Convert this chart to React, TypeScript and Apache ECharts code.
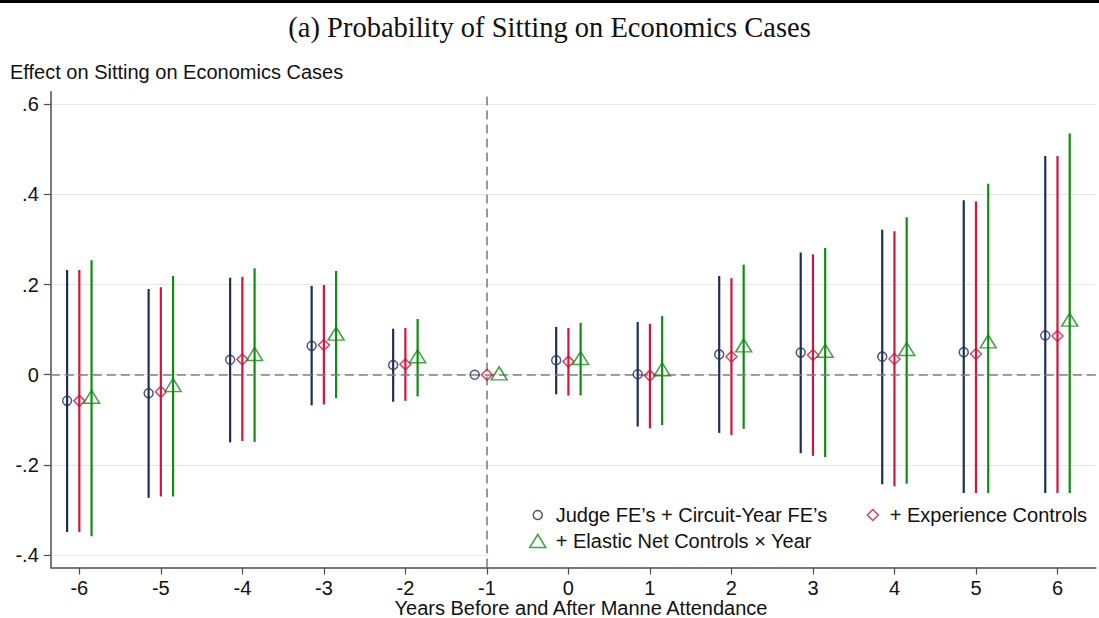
import React, { useEffect, useRef } from "react";
import * as echarts from "echarts";

// ---------- data ----------
const years = [-6, -5, -4, -3, -2, -1, 0, 1, 2, 3, 4, 5, 6];
const yTicks = [-0.4, -0.2, 0, 0.2, 0.4, 0.6];

const seriesNames = [
  "Judge FE\u2019s + Circuit-Year FE\u2019s",
  "+ Experience Controls",
  "+ Elastic Net Controls \u00d7 Year",
];

const baseEst = [-0.058, -0.041, 0.033, 0.064, 0.0215, 0, 0.032, 0.001, 0.045, 0.049, 0.04, 0.05, 0.087];
const baseLo = [-0.349, -0.273, -0.15, -0.068, -0.06, null, -0.0435, -0.115, -0.129, -0.174, -0.243, -0.287, -0.311];
const baseHi = [0.232, 0.19, 0.215, 0.197, 0.102, null, 0.106, 0.117, 0.219, 0.271, 0.3215, 0.387, 0.485];

const expEst = [-0.058, -0.038, 0.034, 0.066, 0.023, 0, 0.029, -0.002, 0.04, 0.0437, 0.035, 0.046, 0.086];
const expLo = [-0.349, -0.27, -0.147, -0.066, -0.058, null, -0.0465, -0.119, -0.134, -0.18, -0.2475, -0.292, -0.313];
const expHi = [0.232, 0.194, 0.217, 0.199, 0.1035, null, 0.1035, 0.113, 0.214, 0.267, 0.318, 0.384, 0.485];

const enetEst = [-0.049, -0.023, 0.046, 0.091, 0.041, 0.003, 0.037, 0.012, 0.065, 0.053, 0.057, 0.074, 0.122];
const enetLo = [-0.358, -0.27, -0.149, -0.052, -0.048, null, -0.046, -0.112, -0.12, -0.1825, -0.2417, -0.2755, -0.291];
const enetHi = [0.254, 0.219, 0.236, 0.23, 0.1235, null, 0.115, 0.13, 0.244, 0.281, 0.349, 0.4235, 0.535];

// ---------- style ----------
const colors = ["#1e2d5c", "#cf1541", "#118c11"];
const offsets = [-0.15, 0, 0.15];
const symbols = ["circle", "diamond", "triangle"];
const symbolSizes: any[] = [9, 11, [16, 13]];
const SANS = "Liberation Sans, Arial, Helvetica, sans-serif";
const SERIF = "Liberation Serif, Times New Roman, serif";

const fmtY = (v: number) => {
  if (Math.abs(v) < 1e-9) return "0";
  const d = Math.round(Math.abs(v) * 10);
  return (v < 0 ? "-" : "") + "." + d;
};

export default function App() {
  const ref = useRef<HTMLDivElement>(null);

  useEffect(() => {
    if (!ref.current) return;
    const chart = echarts.init(ref.current, undefined, { renderer: "svg" });

    const ests = [baseEst, expEst, enetEst];
    const los = [baseLo, expLo, enetLo];
    const his = [baseHi, expHi, enetHi];

    const series: any[] = [];
    for (let s = 0; s < 3; s++) {
      const barData = years
        .map((yr, i) => (los[s][i] == null ? null : [yr + offsets[s], los[s][i], his[s][i]]))
        .filter((d) => d != null);
      const color = colors[s];
      const bar: any = {
        type: "custom",
        name: "ci" + s,
        data: barData,
        encode: { x: 0, y: [1, 2] },
        z: 2,
        renderItem: (_p: any, api: any) => {
          const x = api.value(0);
          const a = api.coord([x, api.value(1)]);
          const b = api.coord([x, api.value(2)]);
          return {
            type: "line",
            shape: { x1: a[0], y1: a[1], x2: b[0], y2: b[1] },
            style: { stroke: color, lineWidth: 2.2 },
          };
        },
      };
      if (s === 0) {
        bar.markLine = {
          silent: true,
          symbol: ["none", "none"],
          label: { show: false },
          lineStyle: { type: [9, 5], color: "#808080", width: 1.6 },
          data: [{ yAxis: 0 }, { xAxis: -1 }],
        };
      }
      series.push(bar);
      series.push({
        type: "scatter",
        name: seriesNames[s],
        data: years.map((yr, i) => [yr + offsets[s], ests[s][i]]),
        symbol: symbols[s],
        symbolSize: symbolSizes[s],
        itemStyle: { color: "rgba(255,255,255,0)", borderColor: color, borderWidth: 1.5 },
        z: 5,
      });
    }

    const legendText = (padLeft: number) => ({
      fontFamily: SANS,
      fontSize: 20,
      color: "#111",
      lineHeight: 22,
      padding: [0, 0, 0, padLeft],
    });
    const legendCommon = {
      orient: "horizontal",
      padding: 0,
      selectedMode: false,
      z: 20,
    };
    const legendItem = (s: number) => ({
      name: seriesNames[s],
      icon: symbols[s],
      itemStyle: { color: "rgba(255,255,255,0)", borderColor: colors[s], borderWidth: 1.5 },
    });

    chart.setOption({
      animation: false,
      backgroundColor: "#ffffff",
      title: {
        text: "(a) Probability of Sitting on Economics Cases",
        left: "center",
        top: 8,
        textStyle: { fontFamily: SERIF, fontSize: 28.5, fontWeight: "normal", color: "#111" },
      },
      legend: [
        { ...legendCommon, data: [legendItem(0)], left: 532.5, top: 504, itemWidth: 9, itemHeight: 9, textStyle: legendText(8.5) },
        { ...legendCommon, data: [legendItem(1)], left: 866.5, top: 504, itemWidth: 11, itemHeight: 11, textStyle: legendText(6.5) },
        { ...legendCommon, data: [legendItem(2)], left: 529, top: 530, itemWidth: 16, itemHeight: 13, textStyle: legendText(5) },
      ],
      grid: { left: 50.8, right: 3.2, top: 91.7, bottom: 50.5, outerBoundsMode: "none" },
      xAxis: {
        type: "value",
        min: -6.35,
        max: 6.47,
        axisLine: { show: true, onZero: false, lineStyle: { color: "#4d4d4d", width: 1.5 } },
        axisTick: { show: true, length: 7, customValues: years, lineStyle: { color: "#4d4d4d", width: 1.2 } },
        axisLabel: {
          customValues: years,
          margin: 10,
          fontFamily: SANS,
          fontSize: 20,
          color: "#111",
          formatter: (v: number) => String(v),
        },
        splitLine: { show: false },
      },
      yAxis: {
        type: "value",
        min: -0.4275,
        max: 0.6275,
        axisLine: { show: true, onZero: false, lineStyle: { color: "#4d4d4d", width: 1.5 } },
        axisTick: { show: true, length: 7, customValues: yTicks, lineStyle: { color: "#4d4d4d", width: 1.2 } },
        axisLabel: {
          customValues: yTicks,
          margin: 12,
          fontFamily: SANS,
          fontSize: 20,
          color: "#111",
          formatter: fmtY,
        },
        splitLine: { show: true, lineStyle: { color: "#e6e6e6", width: 1 } },
      },
      graphic: [
        { type: "rect", z: 30, shape: { x: 0, y: 0, width: 1099, height: 3 }, style: { fill: "#000" } },
        {
          type: "rect",
          z: 10,
          silent: true,
          shape: { x: 489, y: 493, width: 607, height: 68 },
          style: { fill: "#ffffff" },
        },
        {
          type: "text",
          z: 30,
          x: 10,
          y: 72,
          style: {
            text: "Effect on Sitting on Economics Cases",
            fontFamily: SANS,
            fontSize: 20,
            fill: "#111",
            verticalAlign: "middle",
            align: "left",
          },
        },
        {
          type: "text",
          z: 30,
          x: 581,
          y: 608,
          style: {
            text: "Years Before and After Manne Attendance",
            fontFamily: SANS,
            fontSize: 20,
            fill: "#111",
            verticalAlign: "middle",
            align: "center",
          },
        },
      ],
      series,
    });

    return () => chart.dispose();
  }, []);

  return (
    <div
      ref={ref}
      style={{ position: "absolute", left: 0, top: 0, width: 1099, height: 618 }}
    />
  );
}
